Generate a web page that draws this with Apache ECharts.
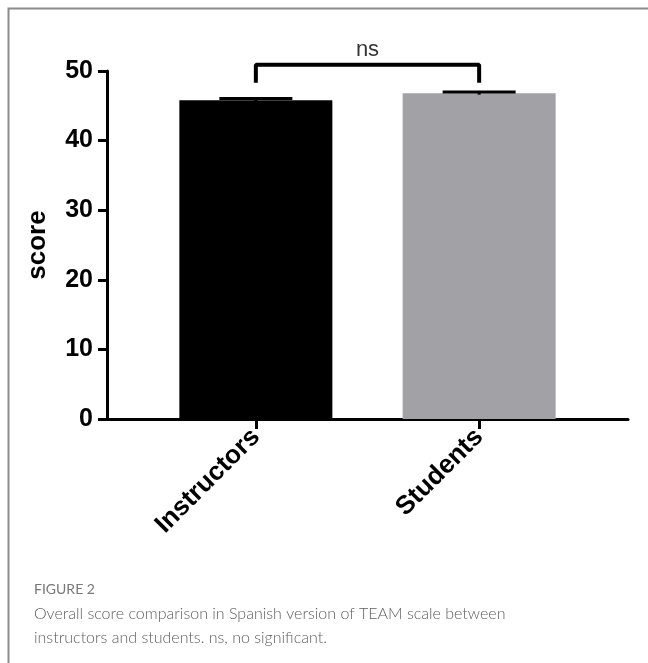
<!DOCTYPE html>
<html>
<head>
<meta charset="utf-8">
<script src="https://cdn.jsdelivr.net/npm/echarts@6/dist/echarts.min.js"></script>
<style>html,body{margin:0;padding:0;background:#fff;}#c{width:648px;height:663px;}</style>
</head>
<body>
<div id="c"></div>
<script>
// ---- data ----
const categories = ['Instructors', 'Students'];
const means = [45.8, 46.8];
const sem = [0.25, 0.2];
const barColors = ['#000000', '#a2a1a6'];
const yTicks = [0, 10, 20, 30, 40, 50];
const bracketLow = 48.3;
const bracketHigh = 50.9;
const bracketLabel = 'ns';
const yName = 'score';
const captionTitle = 'FIGURE 2';
const captionLines = [
  'Overall score comparison in Spanish version of TEAM scale between',
  'instructors and students. ns, no significant.'
];

// category slots on a numeric x axis (0..7), groups at 2 and 5
const catPos = categories.map((c, i) => 2 + 3 * i);

const chart = echarts.init(document.getElementById('c'), null, {renderer: 'canvas'});
const bold = '"Liberation Sans", Arial, Helvetica, sans-serif';

chart.setOption({
  animation: false,
  grid: {left: 107, right: 20, top: 71, bottom: 244, containLabel: false},
  xAxis: {
    type: 'value', min: 0, max: 7, interval: 1,
    splitLine: {show: false},
    axisLine: {show: true, onZero: false, lineStyle: {color: '#000', width: 3}},
    axisTick: {show: true, length: 10, lineStyle: {color: '#000', width: 3}, customValues: catPos},
    axisLabel: {
      customValues: catPos,
      rotate: 45, margin: 14,
      fontFamily: bold, fontWeight: 'bold', fontSize: 26, color: '#000',
      formatter: v => categories[catPos.indexOf(v)] || ''
    }
  },
  yAxis: {
    type: 'value', min: yTicks[0], max: yTicks[yTicks.length - 1], interval: 10,
    splitLine: {show: false},
    axisLine: {show: true, lineStyle: {color: '#000', width: 3}},
    axisTick: {show: true, length: 9, lineStyle: {color: '#000', width: 3}},
    axisLabel: {margin: 14, fontFamily: bold, fontWeight: 'bold', fontSize: 25, color: '#000'},
    name: yName, nameLocation: 'middle', nameGap: 56, nameRotate: 90,
    nameTextStyle: {fontFamily: bold, fontWeight: 'bold', fontSize: 26, color: '#000'}
  },
  graphic: [
    {type: 'rect', shape: {x: 8.5, y: 8.5, width: 800, height: 800}, style: {fill: 'none', stroke: '#8c8c8c', lineWidth: 2}, silent: true},
    {type: 'text', left: 34, top: 582, style: {text: captionTitle, fontFamily: 'Lato, "Open Sans", sans-serif', fontSize: 14, fill: '#777777'}},
    {type: 'text', left: 34, top: 602, style: {text: captionLines.join('\n'), lineHeight: 24, fontFamily: 'Lato, "Open Sans", sans-serif', fontWeight: 300, fontSize: 16, fill: '#5e5e5e'}}
  ],
  series: [
    {
      type: 'bar',
      barWidth: 153,
      data: means.map((m, i) => ({value: [catPos[i], m], itemStyle: {color: barColors[i]}})),
      z: 2
    },
    {
      type: 'custom',
      z: 3,
      data: means.map((m, i) => [catPos[i], m - sem[i], m + sem[i]]),
      renderItem: function (params, api) {
        const x = api.value(0);
        const lo = api.coord([x, api.value(1)]);
        const hi = api.coord([x, api.value(2)]);
        const half = 36.5;
        return {
          type: 'group',
          children: [
            {type: 'line', shape: {x1: lo[0], y1: lo[1], x2: hi[0], y2: hi[1]}, style: {stroke: '#000', lineWidth: 3}},
            {type: 'line', shape: {x1: hi[0] - half, y1: hi[1], x2: hi[0] + half, y2: hi[1]}, style: {stroke: '#000', lineWidth: 3}}
          ]
        };
      }
    },
    {
      type: 'line',
      clip: false,
      symbol: 'none',
      lineStyle: {color: '#000', width: 4},
      data: [[catPos[0], bracketLow], [catPos[0], bracketHigh], [catPos[1], bracketHigh], [catPos[1], bracketLow]],
      z: 4
    },
    {
      type: 'scatter',
      clip: false,
      symbolSize: 0,
      data: [[(catPos[0] + catPos[1]) / 2, bracketHigh]],
      label: {show: true, position: 'top', distance: 4, formatter: bracketLabel, fontFamily: bold, fontSize: 22, color: '#000'}
    }
  ]
});
</script>
</body>
</html>
